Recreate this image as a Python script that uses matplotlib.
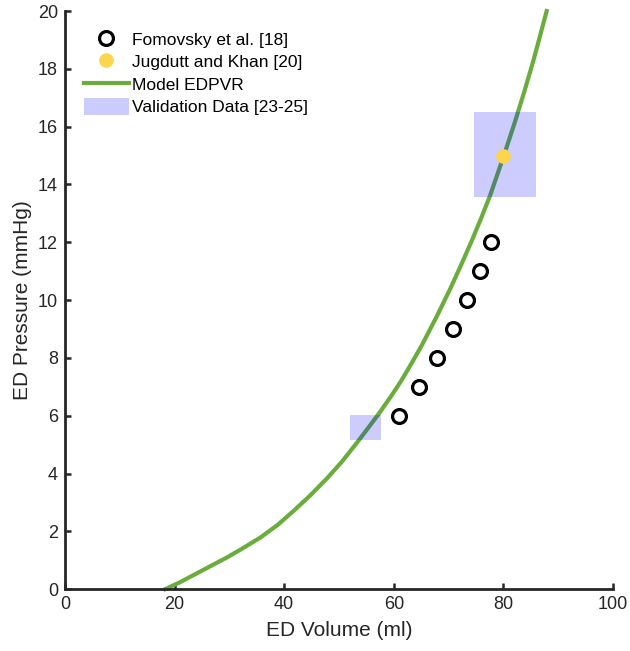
import numpy as np
import matplotlib.pyplot as plt
from matplotlib.patches import Rectangle

plt.rcParams['font.family'] = ['Liberation Sans', 'DejaVu Sans']

# Fomovsky et al. data points
fom_vol = [61.0, 64.6, 67.9, 70.8, 73.4, 75.7, 77.8]
fom_p = [6, 7, 8, 9, 10, 11, 12]

# Jugdutt and Khan point
jug_vol = [80.0]
jug_p = [15.0]

# model EDPVR
mod_vol = [18.3, 21.0, 23.5, 26.5, 29.6, 32.5, 35.7, 38.8, 41.8, 44.8,
           47.8, 50.5, 53.3, 55.5, 57.2, 59.5, 61.4, 63.3, 65.1, 67.8,
           70.3, 72.3, 74.2, 76.0, 77.6, 80.0, 82.0, 83.8, 85.5, 87.9]
mod_p = [0.0, 0.24, 0.49, 0.79, 1.1, 1.42, 1.79, 2.22, 2.72, 3.25,
         3.83, 4.4, 5.07, 5.62, 6.05, 6.67, 7.22, 7.83, 8.43, 9.42,
         10.39, 11.22, 12.04, 12.86, 13.63, 14.95, 16.1, 17.2, 18.3, 20.0]

# validation boxes: (vol_lo, vol_hi, p_lo, p_hi)
val_boxes = [(52.1, 57.7, 5.17, 6.04),
             (74.7, 86.0, 13.56, 16.52)]

green = '#6aad3d'
yellow = '#fdd54d'
axcol = '#262626'

fig = plt.figure(figsize=(6.3, 6.51), dpi=100)
ax = fig.add_axes([0.103, 0.095, 0.870, 0.888])

h1, = ax.plot(fom_vol, fom_p, 'o', ms=10, mfc='none', mec='k', mew=2.3,
              label='Fomovsky et al. [18]', zorder=4)
h2, = ax.plot(jug_vol, jug_p, 'o', ms=9.5, mfc=yellow, mec=yellow,
              label='Jugdutt and Khan [20]', zorder=5)
h3, = ax.plot(mod_vol, mod_p, '-', color=green, lw=3,
              label='Model EDPVR', zorder=2, clip_on=False)
for i, b in enumerate(val_boxes):
    r = Rectangle((b[0], b[2]), b[1] - b[0], b[3] - b[2], facecolor='blue',
                  alpha=0.2, edgecolor='none', zorder=3,
                  label='Validation Data [23-25]' if i == 0 else None)
    ax.add_patch(r)
    if i == 0:
        h4 = r

ax.set_xlim(0, 100)
ax.set_ylim(0, 20)
ax.set_xticks(np.arange(0, 101, 20))
ax.set_yticks(np.arange(0, 21, 2))
ax.set_xlabel('ED Volume (ml)', fontsize=15, color=axcol, labelpad=6)
ax.set_ylabel('ED Pressure (mmHg)', fontsize=15, color=axcol, labelpad=4)
ax.tick_params(direction='in', length=4.5, width=1.8, labelsize=13,
               colors=axcol, pad=5)
for s in ['top', 'right']:
    ax.spines[s].set_visible(False)
for s in ['left', 'bottom']:
    ax.spines[s].set_linewidth(2)
    ax.spines[s].set_color(axcol)

ax.legend(handles=[h1, h2, h3, h4], loc='upper left',
          bbox_to_anchor=(0.034, 0.966), frameon=False, fontsize=12.5,
          handlelength=2.6, handleheight=1.1, handletextpad=0.2,
          labelspacing=0.3, borderpad=0, borderaxespad=0)

fig.savefig('out.png', dpi=100)
